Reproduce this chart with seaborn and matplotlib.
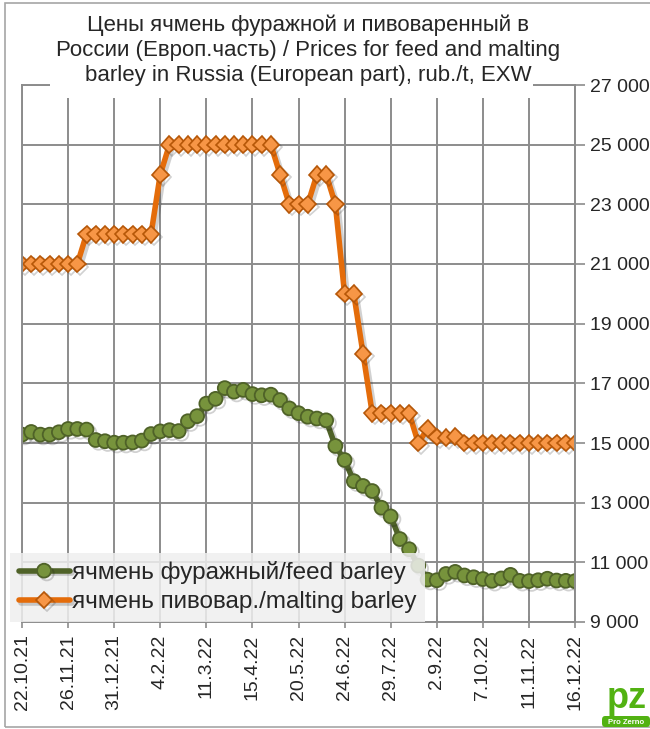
import numpy as np
import pandas as pd
import seaborn as sns
import matplotlib.pyplot as plt
import matplotlib.patheffects as pe
from matplotlib.patches import Rectangle, FancyBboxPatch

# weekly prices, rub./t, 22.10.21 - 16.12.22
dates = pd.date_range('2021-10-22', '2022-12-16', freq='7D')

feed_barley = [15280, 15370, 15280, 15280, 15360, 15470, 15470, 15450, 15100, 15060,
               15010, 15010, 15020, 15080, 15300, 15390, 15430, 15400, 15730, 15900,
               16320, 16480, 16840, 16720, 16780, 16640, 16600, 16620, 16440, 16160,
               16000, 15880, 15820, 15760, 14900, 14430, 13720, 13560, 13390, 12830,
               12540, 11780, 11440, 10890, 10420, 10400, 10610, 10680, 10560, 10500,
               10440, 10380, 10460, 10580, 10380, 10370, 10400, 10450, 10390, 10380,
               10370]

malting_barley = [21000, 21000, 21000, 21000, 21000, 21000, 21000,
                  22000, 22000, 22000, 22000, 22000, 22000, 22000, 22000,
                  24000,
                  25000, 25000, 25000, 25000, 25000, 25000, 25000, 25000, 25000, 25000, 25000, 25000,
                  24000, 23000, 23000, 23000, 24000, 24000, 23000, 20000, 20000, 18000,
                  16000, 16000, 16000, 16000, 16000, 15000, 15480, 15200, 15180, 15210,
                  15000, 15000, 15000, 15000, 15000, 15000, 15000, 15000, 15000, 15000,
                  15000, 15000, 15000]

tick_labels = ['22.10.21', '26.11.21', '31.12.21', '4.2.22', '11.3.22', '15.4.22', '20.5.22',
               '24.6.22', '29.7.22', '2.9.22', '7.10.22', '11.11.22', '16.12.22']

title = ('Цены ячмень фуражной и пивоваренный в\n'
         'России (Европ.часть) / Prices for feed and malting\n'
         'barley in Russia (European part), rub./t, EXW')

sns.set_theme(style='white')
plt.rcParams['font.family'] = ['Liberation Sans', 'DejaVu Sans']

fig = plt.figure(figsize=(6.5, 7.29), dpi=100)
ax = fig.add_axes([22/650, 1-622/729, 553/650, 537/729])

shadow = [pe.SimpleLineShadow(offset=(2, -2), alpha=0.2), pe.Normal()]

sns.lineplot(x=dates, y=feed_barley, ax=ax, color='#4F6228', lw=4,
             marker='o', markersize=10, markerfacecolor='#77933C',
             markeredgecolor='#4F6228', markeredgewidth=1.3,
             label='ячмень фуражный/feed barley', path_effects=shadow)
sns.lineplot(x=dates, y=malting_barley, ax=ax, color='#E46C0A', lw=4,
             marker='D', markersize=8.5, markerfacecolor='#F79646',
             markeredgecolor='#B65708', markeredgewidth=1.2,
             label='ячмень пивовар./malting barley', path_effects=shadow)

ax.set_xlim(dates[0], dates[-1])
ax.set_xticks(dates[::5])
ax.set_xticklabels(tick_labels, rotation=90, fontsize=14)
ax.set_ylim(9000, 27000)
yt = list(range(9000, 27001, 2000))
ax.yaxis.tick_right()
ax.set_yticks(yt)
ax.set_yticklabels([f'{v:,}'.replace(',', ' ') for v in yt], fontsize=14)
ax.set_xlabel('')
ax.set_ylabel('')

ax.grid(True, color='#8C8C8C', lw=1.4)
ax.set_axisbelow(True)
for s in ax.spines.values():
    s.set_color('#8C8C8C')
    s.set_linewidth(1.4)
ax.tick_params(axis='x', direction='inout', length=8, width=1.2, color='#8C8C8C', pad=5, bottom=True)
ax.tick_params(axis='y', direction='out', length=7, width=1.2, color='#8C8C8C', pad=4,
               right=True, left=False)

leg = ax.legend(loc='lower left', bbox_to_anchor=(-12/553, 0), fontsize=17.5, frameon=True,
                fancybox=False, handlelength=2.1, borderpad=0.35, labelspacing=0.3,
                handletextpad=0.1, borderaxespad=0)
leg.get_frame().set_facecolor('#EFEFEF')
leg.get_frame().set_alpha(0.85)
leg.get_frame().set_edgecolor('none')

# white box behind the title
fig.add_artist(Rectangle((50/650, 1-98/729), 483/650, 93/729, transform=fig.transFigure,
                         facecolor='white', edgecolor='none', zorder=2))
fig.text(0.474, 1-50/729, title, ha='center', va='center', fontsize=16,
         linespacing=1.25, zorder=3)

# outer frame
fig.add_artist(Rectangle((5/650, 1-727/729), 700/650, 724/729, transform=fig.transFigure,
                         fill=False, edgecolor='#A6A6A6', lw=1.2, zorder=1))

# ProZerno logo
fig.add_artist(FancyBboxPatch((602/650, 1-727/729), 48/650, 11/729, transform=fig.transFigure,
                              boxstyle='round,pad=0,rounding_size=0.005',
                              facecolor='#52B212', edgecolor='none', zorder=4))
fig.text(627/650, 1-699/729, 'pz', ha='center', va='center', fontsize=26, fontweight='bold',
         color='#52B212', zorder=4)
fig.text(626/650, 1-722/729, 'Pro Zerno', ha='center', va='center', fontsize=5.5,
         color='white', fontweight='bold', zorder=5)

fig.savefig('out.png', dpi=100)
